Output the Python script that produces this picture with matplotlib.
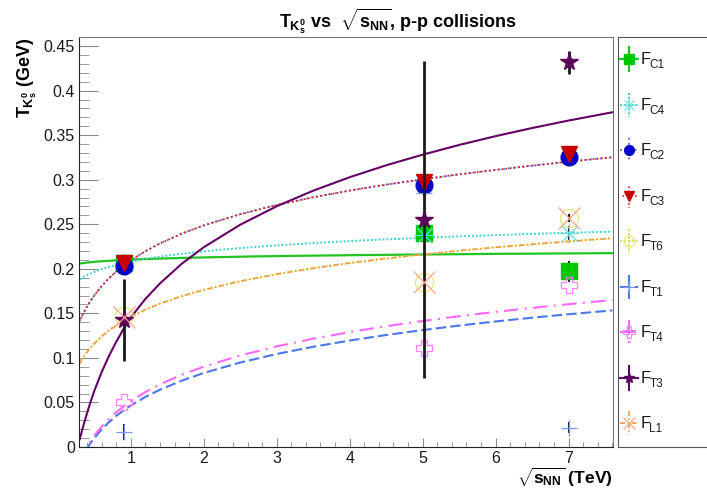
import matplotlib
matplotlib.use("Agg")
import matplotlib.pyplot as plt
from matplotlib.ticker import MultipleLocator, FuncFormatter

plt.rcParams['font.family'] = ['Liberation Sans', 'DejaVu Sans']
plt.rcParams['mathtext.fontset'] = 'custom'
plt.rcParams['mathtext.rm'] = 'Liberation Sans:bold'
plt.rcParams['mathtext.it'] = 'Liberation Sans:bold'
plt.rcParams['mathtext.bf'] = 'Liberation Sans:bold'

# collision energies (TeV)
energies = [0.9, 5.02, 7.0]

# extracted temperatures (GeV) and their errors for each fit function
fc1_T = [0.206, 0.240, 0.197]
fc1_err = [0.0, 0.0, 0.012]
fc4_T = [0.206, 0.238, 0.240]
fc4_err = [0.0, 0.0, 0.008]
fc2_T = [0.203, 0.294, 0.325]
fc2_err = [0.0, 0.0, 0.0]
fc3_T = [0.207, 0.298, 0.329]
fc3_err = [0.0, 0.0, 0.0]
ft6_T = [0.147, 0.185, 0.257]
ft6_err = [0.0, 0.0, 0.005]
ft1_T = [0.0165, 0.2855, 0.0217]
ft1_err = [0.009, 0.0, 0.006]
ft4_T = [0.050, 0.111, 0.182]
ft4_err = [0.0, 0.0, 0.0]
ft3_T = [0.143, 0.255, 0.432]
ft3_err = [0.046, 0.178, 0.013]
fl1_T = [0.146, 0.185, 0.257]
fl1_err = [0.0, 0.0, 0.0]

# trend curves vs sqrt(s_NN)
fit_x = [0.3, 0.35, 0.4, 0.45, 0.5, 0.6, 0.7, 0.8, 0.9, 1.0, 1.2, 1.4, 1.7, 2.0,
         2.5, 3.0, 3.5, 4.0, 4.5, 5.0, 5.5, 6.0, 6.5, 7.0, 7.6]
fc1_fit = [0.2060, 0.2065, 0.2070, 0.2074, 0.2078, 0.2085, 0.2090, 0.2095, 0.2099, 0.2103,
           0.2110, 0.2115, 0.2122, 0.2128, 0.2136, 0.2143, 0.2148, 0.2153, 0.2157, 0.2161,
           0.2164, 0.2168, 0.2170, 0.2173, 0.2176]
fc4_fit = [0.1881, 0.1907, 0.1929, 0.1948, 0.1966, 0.1996, 0.2022, 0.2044, 0.2064, 0.2081,
           0.2111, 0.2137, 0.2169, 0.2196, 0.2233, 0.2263, 0.2289, 0.2311, 0.2331, 0.2348,
           0.2364, 0.2378, 0.2392, 0.2404, 0.2418]
fc2_fit = [0.1415, 0.1502, 0.1577, 0.1644, 0.1703, 0.1806, 0.1893, 0.1969, 0.2036, 0.2095,
           0.2198, 0.2285, 0.2395, 0.2487, 0.2613, 0.2716, 0.2803, 0.2878, 0.2945, 0.3004,
           0.3060, 0.3110, 0.3158, 0.3203, 0.3252]
fc3_fit = [0.1415, 0.1502, 0.1577, 0.1644, 0.1703, 0.1806, 0.1893, 0.1969, 0.2036, 0.2095,
           0.2198, 0.2285, 0.2395, 0.2487, 0.2613, 0.2716, 0.2803, 0.2878, 0.2945, 0.3004,
           0.3060, 0.3110, 0.3158, 0.3203, 0.3252]
ft6_fit = [0.0940, 0.1007, 0.1065, 0.1116, 0.1162, 0.1241, 0.1308, 0.1366, 0.1417, 0.1463,
           0.1542, 0.1609, 0.1693, 0.1764, 0.1861, 0.1940, 0.2007, 0.2065, 0.2116, 0.2161,
           0.2203, 0.2241, 0.2275, 0.2308, 0.2343]
ft1_fit = [-0.0167, -0.0086, -0.0016, 0.0046, 0.0101, 0.0197, 0.0278, 0.0349, 0.0411, 0.0466,
           0.0562, 0.0643, 0.0745, 0.0831, 0.0948, 0.1044, 0.1125, 0.1195, 0.1257, 0.1312,
           0.1363, 0.1409, 0.1451, 0.1490, 0.1533]
ft4_fit = [-0.0158, -0.0072, 0.0003, 0.0068, 0.0128, 0.0229, 0.0315, 0.0390, 0.0456, 0.0515,
           0.0617, 0.0703, 0.0812, 0.0902, 0.1027, 0.1129, 0.1215, 0.1290, 0.1356, 0.1414,
           0.1468, 0.1517, 0.1561, 0.1603, 0.1649]
ft3_fit = [0.0090, 0.0240, 0.0380, 0.0510, 0.0630, 0.0840, 0.1020, 0.1180, 0.1325, 0.1455,
           0.1662, 0.1836, 0.2058, 0.2242, 0.2495, 0.2702, 0.2877, 0.3028, 0.3162, 0.3281,
           0.3390, 0.3489, 0.3580, 0.3664, 0.3757]
fl1_fit = [0.0940, 0.1007, 0.1065, 0.1116, 0.1162, 0.1241, 0.1308, 0.1366, 0.1417, 0.1463,
           0.1542, 0.1609, 0.1693, 0.1764, 0.1861, 0.1940, 0.2007, 0.2065, 0.2116, 0.2161,
           0.2203, 0.2241, 0.2275, 0.2308, 0.2343]

W, H = 707, 491
fig = plt.figure(figsize=(W / 100, H / 100), dpi=100)
ax = fig.add_axes([79 / W, 1 - 447 / H, 534 / W, 410 / H])

# (subscript, points, errors, curve, line colour, linestyle, lw, marker, size, filled)
series = [
    ("C1", fc1_T, fc1_err, fc1_fit, '#22c422', '-', 1.6, 's', 12, True),
    ("C4", fc4_T, fc4_err, fc4_fit, '#40d0d0', (0, (1, 1)), 1.4, '*8', 15, False),
    ("C2", fc2_T, fc2_err, fc2_fit, '#7474dc', (0, (1, 1.5)), 1.4, 'o', 12, True),
    ("C3", fc3_T, fc3_err, fc3_fit, '#d41a1a', (1, (1, 1.5)), 1.2, 'v', 12, True),
    ("T6", ft6_T, ft6_err, ft6_fit, '#dada40', (0, (1, 1)), 1.4, 'o', 13, False),
    ("T1", ft1_T, ft1_err, ft1_fit, '#4a78ea', (0, (5, 2)), 1.5, '+', 12, False),
    ("T4", ft4_T, ft4_err, ft4_fit, '#ff66ff', (0, (7, 3, 1, 3)), 1.5, 'P', 12, False),
    ("T3", ft3_T, ft3_err, ft3_fit, '#650065', '-', 1.5, '*', 13, True),
    ("L1", fl1_T, fl1_err, fl1_fit, '#f39a4a', (0, (3, 1.5, 1, 1.5)), 1.2, 'x', 16, False),
]
marker_colors = {
    "C1": '#00c800', "C4": '#66dede', "C2": '#0000c8', "C3": '#c80000',
    "T6": '#e6e67a', "T1": '#7a98f0', "T4": '#ff80ff', "T3": '#5c005c',
    "L1": '#ffa488',
}

for sub, vals, errs, fit, col, ls, lw, mk, ms, filled in series:
    ax.plot(fit_x, fit, color=col, ls=ls, lw=lw, zorder=2)

for i, (sub, vals, errs, fit, col, ls, lw, mk, ms, filled) in enumerate(series):
    z = 3 + i * 0.1
    mcol = marker_colors[sub]
    xs = [e for e, d in zip(energies, errs) if d > 0]
    ys = [v for v, d in zip(vals, errs) if d > 0]
    ds = [d for d in errs if d > 0]
    if xs:
        ax.errorbar(xs, ys, yerr=ds, fmt='none', ecolor='#1a1a1a',
                    elinewidth=2.0 if sub == "T3" else 1.4, capsize=0, zorder=z)
    if mk == '*8':
        ax.plot(energies, vals, ls='none', marker='+', ms=ms, mew=0.9, color=mcol, zorder=z + 0.05)
        ax.plot(energies, vals, ls='none', marker='x', ms=ms * 0.72, mew=0.9, color=mcol, zorder=z + 0.05)
    elif filled:
        ax.plot(energies, vals, ls='none', marker=mk, ms=ms, color=mcol, mec=mcol, zorder=z + 0.05)
    else:
        ax.plot(energies, vals, ls='none', marker=mk, ms=ms, mfc='none', mec=mcol,
                mew=0.9, zorder=z + 0.05)

ax.set_xlim(0.29, 7.61)
ax.set_ylim(0, 0.4602)
ax.xaxis.set_major_locator(MultipleLocator(1))
ax.xaxis.set_minor_locator(MultipleLocator(0.2))
ax.yaxis.set_major_locator(MultipleLocator(0.05))
ax.yaxis.set_minor_locator(MultipleLocator(0.01))
ax.yaxis.set_major_formatter(FuncFormatter(lambda v, p: f"{v:g}"))
ax.tick_params(axis='both', which='both', direction='in', colors='#8a8a8a',
               labelcolor='#1a1a1a', labelsize=11.5)
ax.tick_params(axis='y', which='major', length=13.5, pad=3)
ax.tick_params(axis='y', which='minor', length=7)
ax.tick_params(axis='x', which='major', length=6.5, pad=3)
ax.tick_params(axis='x', which='minor', length=3.5)
for s in ['left', 'bottom']:
    ax.spines[s].set_color('#222222')
for s in ['top', 'right']:
    ax.spines[s].set_color('#777777')

fig.text(398 / W, 1 - 6 / H, r"$T_{K^0_s}$ vs  $\sqrt{s_{NN}}$, p-p collisions",
         ha='center', va='top', fontsize=13, fontweight='bold')
fig.text(27 / W, 1 - 37 / H, r"$T_{K^0_s}$ (GeV)", rotation=90,
         ha='center', va='top', fontsize=13, fontweight='bold')
fig.text(613 / W, 1 - 466 / H, r"$\sqrt{s_{NN}}$ (TeV)", ha='right', va='top',
         fontsize=12.5, fontweight='bold')

# legend panel to the right of the frame
lax = fig.add_axes([618 / W, 1 - 447 / H, 0.2, 410 / H])
lax.set_xlim(618, 618 + 0.2 * W)
lax.set_ylim(447, 37)
lax.set_xticks([])
lax.set_yticks([])
for s in lax.spines.values():
    s.set_color('#555555')

for i, (sub, vals, errs, fit, col, ls, lw, mk, ms, filled) in enumerate(series):
    yc = 59.5 + 45.5 * i
    mcol = marker_colors[sub]
    lax.plot([620, 638], [yc, yc], color=col, ls=ls, lw=lw)
    lax.plot([629, 629], [yc - 12, yc + 12], color=col, ls=ls, lw=lw)
    if mk == '*8':
        lax.plot([629], [yc], marker='+', ms=9, mew=0.8, color=mcol)
        lax.plot([629], [yc], marker='x', ms=6.5, mew=0.8, color=mcol)
    elif filled:
        lax.plot([629], [yc], marker=mk, ms=7, color=mcol)
    else:
        lax.plot([629], [yc], marker=mk, ms=8, mfc='none', mec=mcol, mew=0.9)
    lax.text(641, yc + 5, "F", fontsize=12, va='baseline', ha='left', color='#1a1a1a')
    lax.text(649.5, yc + 9, sub, fontsize=8.5, va='baseline', ha='left', color='#1a1a1a')

fig.savefig("out.png", dpi=100)
